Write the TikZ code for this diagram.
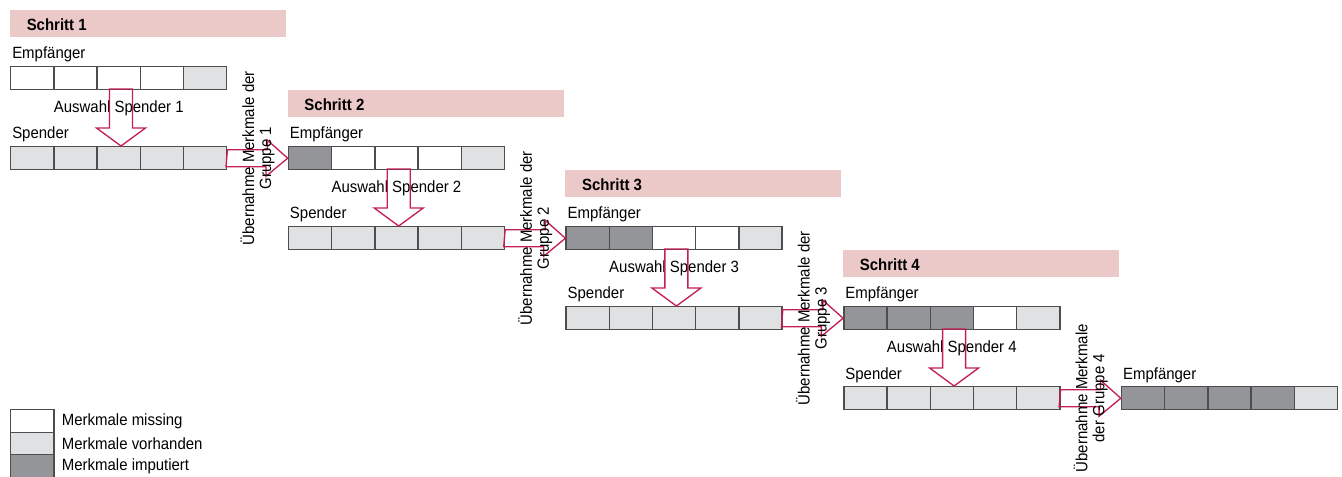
\documentclass[tikz,border=0pt]{standalone}
\usepackage{fontspec}
\setmainfont[FakeStretch=0.92]{Liberation Sans}
\usetikzlibrary{positioning,calc}

\definecolor{headpink}{RGB}{236,201,201}
\definecolor{missing}{RGB}{255,255,255}
\definecolor{present}{RGB}{224,225,227}
\definecolor{imputed}{RGB}{147,149,152}
\definecolor{cellline}{RGB}{77,77,77}
\definecolor{arrowred}{RGB}{196,30,84}

\begin{document}
\begin{tikzpicture}[x=0.75pt, y=-0.75pt,
  font=\fontsize{12.2}{12.8}\selectfont,
  cell/.style={draw=cellline, line width=1.1pt, minimum width=32.4pt,
    minimum height=17.25pt, inner sep=0pt, anchor=north west},
  bigarrow/.style={draw=arrowred, line width=1pt, line join=miter},
  lbl/.style={inner sep=0pt, anchor=base west}]
  \useasboundingbox (0,0) rectangle (1342,477);

  % Empfaenger rows (the fifth one is the result)
  \foreach \n in {1,...,5} {
    \pgfmathsetmacro\X{10+(\n-1)*277.7}
    \pgfmathsetmacro\Y{10+(\n-1)*80}
    \foreach \c in {1,...,5} {
      \ifnum\c<\n \def\cf{imputed}\else\ifnum\c=5 \def\cf{present}\else\def\cf{missing}\fi\fi
      \node[cell, fill=\cf] (e\n-\c) at (\X+\c*43.2-43.2, \Y+56) {};
    }
    \node[lbl] (el\n) at ($(e\n-1.north west)+(2,-7)$) {Empfänger};
  }

  % Schritte 1 to 4
  \foreach \n in {1,...,4} {
    \pgfmathsetmacro\X{10+(\n-1)*277.7}
    \pgfmathsetmacro\Y{10+(\n-1)*80}
    \fill[headpink] (\X,\Y) rectangle ++(276,27.5);
    \node[lbl] (s\n) at (\X+16.5,\Y+20.7) {\bfseries Schritt \n};
    \foreach \c in {1,...,5}
      \node[cell, fill=present] (sp\n-\c) at (\X+\c*43.2-43.2, \Y+136) {};
    \node[lbl] (sl\n) at ($(sp\n-1.north west)+(2,-7)$) {Spender};
    \node[anchor=base, inner sep=0pt] (aw\n) at ($(e\n-3.south)+(0,22)$) {Auswahl Spender \n};
    % Auswahl arrow
    \coordinate (t\n) at (\X+111, \Y+79);
    \coordinate (p\n) at (\X+111, \Y+136);
    \draw[bigarrow] (t\n) ++(-11.5,0) -- ++(0,39) -- ++(-13,0) -- (p\n)
      -- ++(24.5,-18) -- ++(-13,0) -- ++(0,-39) -- cycle;
  }

  % Uebernahme arrows
  \foreach \n/\txt in {1/{Übernahme Merkmale der\\Gruppe 1},
                       2/{Übernahme Merkmale der\\Gruppe 2},
                       3/{Übernahme Merkmale der\\Gruppe 3},
                       4/{Übernahme Merkmale\\der Gruppe 4}} {
    \pgfmathtruncatemacro\m{\n+1}
    \draw[bigarrow] (sp\n-5.east) ++(0,-8.5) -- ++(40,0) -- ++(0,-9.5) -- (e\m-1.west)
      -- ++(-21.7,18) -- ++(0,-9.5) -- ++(-40,0) -- cycle;
    \node[rotate=90, align=center, inner sep=0pt] (ub\n) at ($(sp\n-5.east)!0.5!(e\m-1.west)$) {\txt};
  }

  % Legend
  \foreach \i/\cf/\txt in {0/missing/Merkmale missing, 1/present/Merkmale vorhanden,
                           2/imputed/Merkmale imputiert} {
    \node[cell, minimum height=16.9pt, fill=\cf] (lg\i) at (10, 409+\i*22.5) {};
    \node[anchor=west, inner sep=0pt] (lt\i) at ($(lg\i.east)+(7,0)$) {\txt};
  }
\end{tikzpicture}
\end{document}
